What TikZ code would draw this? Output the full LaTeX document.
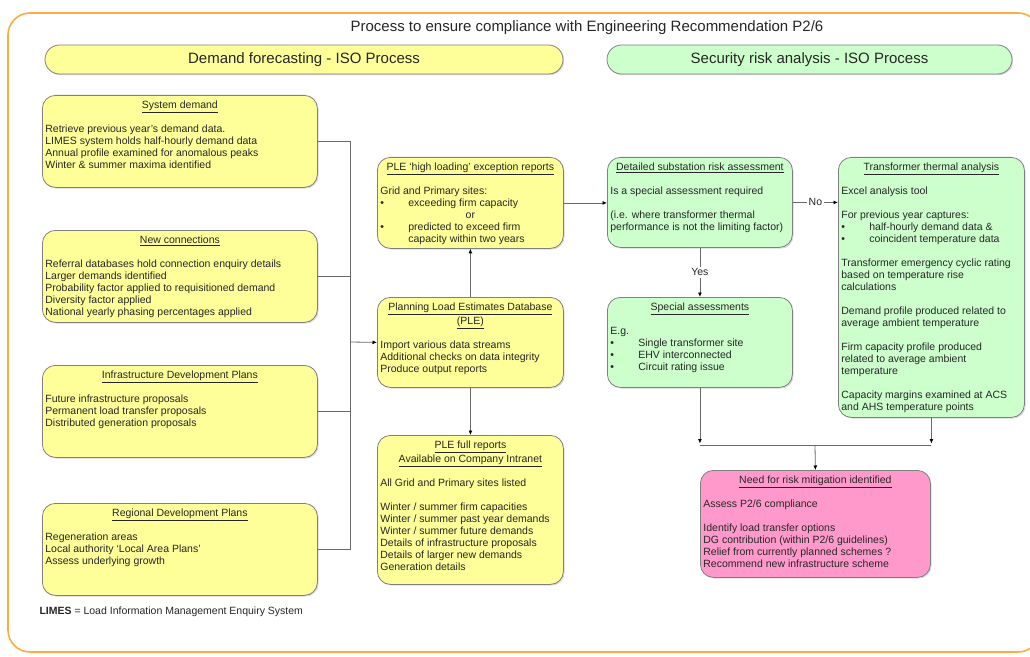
\documentclass[tikz,border=0pt]{standalone}
\usepackage{fontspec}
\setmainfont{Liberation Sans}
\usetikzlibrary{arrows.meta,positioning,shadows}
\definecolor{ppyellow}{RGB}{255,255,153}
\definecolor{ppgreen}{RGB}{204,255,204}
\definecolor{pppink}{RGB}{255,153,204}
\definecolor{ppborder}{RGB}{128,128,128}
\definecolor{pporange}{RGB}{255,172,60}
\definecolor{ppline}{RGB}{105,105,105}
\newcommand{\cardfont}{\fontsize{10.5bp}{12bp}\selectfont}
\newcommand{\cardbody}[3]{\begin{minipage}[t][\dimexpr#2bp-10bp\relax][t]{\dimexpr#1bp-6bp\relax}\raggedright#3\end{minipage}}
\newcommand{\cardtitle}[1]{\makebox[\linewidth]{\strut\underline{#1}}}
\newcommand{\bitem}[1]{\makebox[28bp][l]{\textbullet}#1}
\tikzset{
  card/.style={rectangle, rounded corners=13bp, draw=ppborder, line width=0.8bp, inner xsep=3bp, inner ysep=5bp, anchor=north west, font=\cardfont, text=black!85, drop shadow={shadow xshift=1.2bp, shadow yshift=-1.2bp, opacity=0.3}},
  yellowcard/.style={card, fill=ppyellow},
  greencard/.style={card, fill=ppgreen},
  pinkcard/.style={card, fill=pppink},
  header/.style={rectangle, rounded corners=14.5bp, draw=ppborder, line width=0.8bp, minimum height=29bp, font=\fontsize{15bp}{18bp}\selectfont, text=black!85, drop shadow={shadow xshift=1.2bp, shadow yshift=-1.2bp, opacity=0.3}},
  conn/.style={draw=ppline, line width=0.8bp, -{Latex[length=4.5bp,width=4bp,color=black]}},
  plain/.style={draw=ppline, line width=0.8bp},
  tag/.style={fill=white, inner sep=1.5bp, font=\cardfont, text=black!85}
}
\begin{document}
\begin{tikzpicture}[x=1bp, y=-1bp]
\useasboundingbox (0,0) rectangle (1030,657);
\draw[pporange, line width=1.6bp, rounded corners=22bp] (8,13) rectangle (1040,652);
\node[font=\fontsize{15bp}{18bp}\selectfont, text=black!85] (title) at (587,28) {Process to ensure compliance with Engineering Recommendation P2/6};
\node[header, fill=ppyellow, minimum width=518bp] (dfhead) at (304,59.5) {Demand forecasting - ISO Process};
\node[header, fill=ppgreen, minimum width=405bp] (srhead) at (809.5,59.5) {Security risk analysis - ISO Process};
% demand inputs
\node[yellowcard] (sysd) at (42,95) {\cardbody{275}{92}{\cardtitle{System demand}\\[12bp]
  Retrieve previous year's demand data.\\ LIMES system holds half-hourly demand data\\ Annual profile examined for anomalous peaks\\ Winter \& summer maxima identified}};
\node[yellowcard] (newc) at (42,230) {\cardbody{275}{92}{\cardtitle{New connections}\\[12bp]
  Referral databases hold connection enquiry details\\ Larger demands identified\\ Probability factor applied to requisitioned demand\\ Diversity factor applied\\ National yearly phasing percentages applied}};
\node[yellowcard] (infra) at (42,365) {\cardbody{275}{92}{\cardtitle{Infrastructure Development Plans}\\[12bp]
  Future infrastructure proposals\\ Permanent load transfer proposals\\ Distributed generation proposals}};
\node[yellowcard] (regdev) at (42,503) {\cardbody{275}{92}{\cardtitle{Regional Development Plans}\\[12bp]
  Regeneration areas\\ Local authority `Local Area Plans'\\ Assess underlying growth}};
\node[anchor=west, font=\cardfont, text=black!85] (limes) at (36,612) {\textbf{LIMES} = Load Information Management Enquiry System};
% PLE column
\node[yellowcard] (hiload) at (377,157) {\cardbody{186}{91}{\cardtitle{PLE `high loading' exception reports}\\[12bp]
  Grid and Primary sites:\\ \bitem{exceeding firm capacity}\\ \makebox[\linewidth]{or}\\ \bitem{predicted to exceed firm}\\ \hspace*{28bp}capacity within two years}};
\node[yellowcard] (pledb) at (377,297) {\cardbody{186}{90}{\cardtitle{Planning Load Estimates Database}\\ \cardtitle{(PLE)}\\[12bp]
  Import various data streams\\ Additional checks on data integrity\\ Produce output reports}};
\node[yellowcard] (fullrep) at (377,435) {\cardbody{186}{149}{\cardtitle{PLE full reports}\\ \cardtitle{Available on Company Intranet}\\[12bp]
  All Grid and Primary sites listed\\[12bp] Winter / summer firm capacities\\ Winter / summer past year demands\\ Winter / summer future demands\\ Details of infrastructure proposals\\ Details of larger new demands\\ Generation details}};
% security risk column
\node[greencard] (detail) at (607,157) {\cardbody{185}{90}{\cardtitle{Detailed substation risk assessment}\\[12bp]
  Is a special assessment required\\[12bp] (i.e. where transformer thermal\\ performance is not the limiting factor)}};
\node[greencard] (special) at (607,297) {\cardbody{185}{90}{\cardtitle{Special assessments}\\[12bp]
  E.g.\\ \bitem{Single transformer site}\\ \bitem{EHV interconnected}\\ \bitem{Circuit rating issue}}};
\node[greencard] (thermal) at (838,157) {\cardbody{186}{260}{\cardtitle{Transformer thermal analysis}\\[12bp]
  Excel analysis tool\\[12bp] For previous year captures:\\ \bitem{half-hourly demand data \&}\\ \bitem{coincident temperature data}\\[12bp]
  Transformer emergency cyclic rating\\ based on temperature rise\\ calculations\\[12bp] Demand profile produced related to\\ average ambient temperature\\[12bp]
  Firm capacity profile produced\\ related to average ambient\\ temperature\\[12bp] Capacity margins examined at ACS\\ and AHS temperature points}};
\node[pinkcard] (mitig) at (700,470) {\cardbody{230}{107}{\cardtitle{Need for risk mitigation identified}\\[12bp]
  Assess P2/6 compliance\\[12bp] Identify load transfer options\\ DG contribution (within P2/6 guidelines)\\ Relief from currently planned schemes ?\\ Recommend new infrastructure scheme}};
% connectors
\coordinate (bus) at (350,342);
\coordinate (jbar) at (815,445);
\coordinate (jtip) at (815,443.5);
\draw[plain] (sysd.east) -| (bus);\draw[plain] (newc.east) -| (bus);\draw[plain] (infra.east) -| (bus);\draw[plain] (regdev.east) -| (bus);
\draw[conn] (bus) -- (pledb.west);\draw[conn] (pledb.north) -- (hiload.south);\draw[conn] (pledb.south) -- (fullrep.north);
\draw[conn] (hiload.east) -- (hiload.east -| detail.west);
\draw[conn] (detail.east) -- node[tag] {No} (detail.east -| thermal.west);
\draw[conn] (detail.south) -- node[tag] {Yes} (special.north);
\draw[conn] (special.south) -- (special.south |- jtip);\draw[conn] (thermal.south) -- (thermal.south |- jtip);
\draw[plain] (special.south |- jbar) -- (thermal.south |- jbar);
\draw[conn] (jbar) -- (mitig.north);
\end{tikzpicture}
\end{document}
